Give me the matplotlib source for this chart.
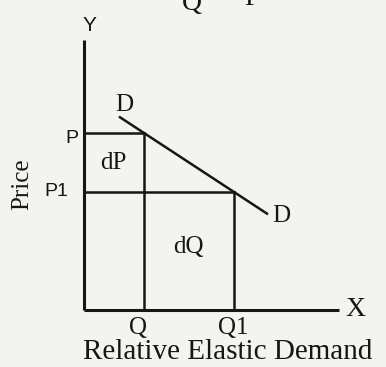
import matplotlib
matplotlib.use("Agg")
import matplotlib.pyplot as plt

# quantities and prices (chart units)
q_levels = [2.0, 5.0]          # Q, Q1
p_levels = [6.0, 4.0]          # P, P1
q_labels = ["Q", "Q1"]
p_labels = ["P", "P1"]
demand_x = [1.2, 6.1]
demand_slope = -2.0 / 3.0
x_axis_end = 8.5
y_axis_top = 9.15

demand_y = [p_levels[0] + demand_slope * (x - q_levels[0]) for x in demand_x]

bg = "#f3f4ef"
ink = "#161616"
serif = "Liberation Serif"
sans = "Liberation Sans"

fig = plt.figure(figsize=(3.86, 3.67), dpi=100, facecolor=bg)
ax = fig.add_axes([0, 0, 1, 1])
ax.set_facecolor(bg)
ax.set_xlim(-84 / 30, 302 / 30)
ax.set_ylim(-57 / 29.5, 310 / 29.5)
ax.axis("off")

# axes
ax.plot([0, 0], [0, y_axis_top], color=ink, lw=2.2, solid_capstyle="butt")
ax.plot([0, x_axis_end], [0, 0], color=ink, lw=2.2, solid_capstyle="butt")

# guide lines
ax.plot([0, q_levels[0]], [p_levels[0]] * 2, color=ink, lw=1.8)
ax.plot([0, q_levels[1]], [p_levels[1]] * 2, color=ink, lw=1.8)
ax.plot([q_levels[0]] * 2, [0, p_levels[0]], color=ink, lw=1.8)
ax.plot([q_levels[1]] * 2, [0, p_levels[1]], color=ink, lw=1.8)

# demand curve
ax.plot(demand_x, demand_y, color=ink, lw=1.8)

# labels
ax.text(0.17, 9.65, "Y", family=sans, fontsize=15, ha="center", va="center", color=ink)
ax.text(9.03, 0.0, "X", family=serif, fontsize=20, ha="center", va="center", color=ink)
ax.text(-0.2, 5.8, p_labels[0], family=sans, fontsize=14, ha="right", va="center", color=ink)
ax.text(-0.53, 4.03, p_labels[1], family=sans, fontsize=14, ha="right", va="center", color=ink)
ax.text(1.8, -0.62, q_labels[0], family=serif, fontsize=18, ha="center", va="center", color=ink)
ax.text(4.97, -0.62, q_labels[1], family=serif, fontsize=18, ha="center", va="center", color=ink)
ax.text(1.33, 6.95, "D", family=serif, fontsize=18, ha="center", va="center", color=ink)
ax.text(6.57, 3.19, "D", family=serif, fontsize=18, ha="center", va="center", color=ink)
ax.text(0.97, 4.99, "dP", family=serif, fontsize=18, ha="center", va="center", color=ink)
ax.text(3.47, 2.14, "dQ", family=serif, fontsize=18, ha="center", va="center", color=ink)
ax.text(-2.07, 4.27, "Price", family=serif, fontsize=18, rotation=90, ha="center", va="center", color=ink)
ax.text(4.8, -1.44, "Relative Elastic Demand", family=serif, fontsize=21, ha="center", va="center", color=ink)
# fragments of a formula cut off at the top edge, as in the scan
ax.text(3.6, 10.4, "Q", family=serif, fontsize=20, ha="center", va="center", color=ink)
ax.text(5.6, 10.55, "P", family=serif, fontsize=20, ha="center", va="center", color=ink)

fig.savefig("out.png", dpi=100, facecolor=bg)
